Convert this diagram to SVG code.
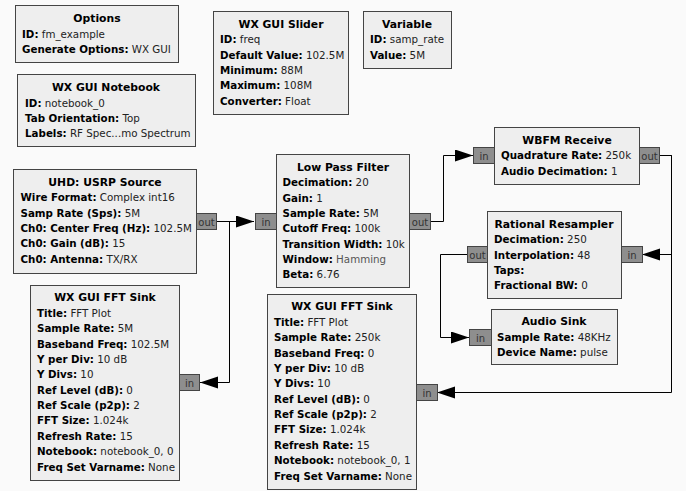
<svg xmlns="http://www.w3.org/2000/svg" width="686" height="491" viewBox="0 0 686 491">
<style>
.bg{fill:#fafafa}
.box{fill:#eeeeee;stroke:#444;stroke-width:1}
.port{fill:#8e8e8e;stroke:#444;stroke-width:1}
.pt{font-family:"DejaVu Sans",sans-serif;font-size:10px;fill:#333;text-anchor:middle}
.t{font-family:"DejaVu Sans",sans-serif;font-size:10.8px;font-weight:bold;fill:#000;text-anchor:middle}
.f{font-family:"DejaVu Sans",sans-serif;font-size:10.3px;fill:#222}
.k{font-weight:bold;fill:#000}
.w{fill:#555}
.c{fill:none;stroke:#000;stroke-width:1}
</style>
<defs>
<marker id="ah" markerUnits="userSpaceOnUse" markerWidth="19" markerHeight="13" refX="18" refY="6" orient="auto">
<path d="M0,0 L18,6 L0,12 z" fill="#000"/>
</marker>
</defs>
<rect class="bg" x="0" y="0" width="686" height="491"/>

<g id="connectors">
<path class="c" d="M216,221.5 H254" marker-end="url(#ah)"/>
<path class="c" d="M216,221.5 H229.5 V382.5 H200" marker-end="url(#ah)"/>
<path class="c" d="M430,221.5 H443.5 V155.5 H473" marker-end="url(#ah)"/>
<path class="c" d="M659,155.5 H671.5 V254.5 H642" marker-end="url(#ah)"/>
<path class="c" d="M659,155.5 H671.5 V392.5 H437" marker-end="url(#ah)"/>
<path class="c" d="M467,254.5 H440.5 V337.5 H469" marker-end="url(#ah)"/>
</g>

<g id="options">
<rect class="box" x="15.5" y="5.5" width="163" height="57"/>
<text class="t" x="97" y="22">Options</text>
<text class="f" x="22" y="37.5"><tspan class="k">ID:</tspan> fm_example</text>
<text class="f" x="22" y="53"><tspan class="k">Generate Options:</tspan> WX GUI</text>
</g>

<g id="notebook">
<rect class="box" x="17.5" y="74.5" width="178" height="72"/>
<text class="t" x="106" y="91">WX GUI Notebook</text>
<text class="f" x="25" y="106.5"><tspan class="k">ID:</tspan> notebook_0</text>
<text class="f" x="25" y="122"><tspan class="k">Tab Orientation:</tspan> Top</text>
<text class="f" x="25" y="137"><tspan class="k">Labels:</tspan> RF Spec...mo Spectrum</text>
</g>

<g id="slider">
<rect class="box" x="213.5" y="11.5" width="135" height="103"/>
<text class="t" x="281" y="27.5">WX GUI Slider</text>
<text class="f" x="220" y="43"><tspan class="k">ID:</tspan> freq</text>
<text class="f" x="220" y="58.5"><tspan class="k">Default Value:</tspan> 102.5M</text>
<text class="f" x="220" y="73.5"><tspan class="k">Minimum:</tspan> 88M</text>
<text class="f" x="220" y="89"><tspan class="k">Maximum:</tspan> 108M</text>
<text class="f" x="220" y="104.5"><tspan class="k">Converter:</tspan> Float</text>
</g>

<g id="variable">
<rect class="box" x="363.5" y="11.5" width="88" height="57"/>
<text class="t" x="407" y="27.5">Variable</text>
<text class="f" x="370" y="43"><tspan class="k">ID:</tspan> samp_rate</text>
<text class="f" x="370" y="58.5"><tspan class="k">Value:</tspan> 5M</text>
</g>

<g id="usrp_source">
<rect class="box" x="13.5" y="169.5" width="183" height="104"/>
<text class="t" x="105" y="185.5">UHD: USRP Source</text>
<text class="f" x="20.5" y="201"><tspan class="k">Wire Format:</tspan> Complex int16</text>
<text class="f" x="20.5" y="216.5"><tspan class="k">Samp Rate (Sps):</tspan> 5M</text>
<text class="f" x="20.5" y="231.5"><tspan class="k">Ch0: Center Freq (Hz):</tspan> 102.5M</text>
<text class="f" x="20.5" y="247"><tspan class="k">Ch0: Gain (dB):</tspan> 15</text>
<text class="f" x="20.5" y="262.5"><tspan class="k">Ch0: Antenna:</tspan> TX/RX</text>
<rect class="port" x="196.5" y="213.5" width="20" height="16"/>
<text class="pt" x="206.5" y="225.5">out</text>
</g>

<g id="low_pass_filter">
<rect class="box" x="276.5" y="154.5" width="133" height="133"/>
<text class="t" x="343" y="170.5">Low Pass Filter</text>
<text class="f" x="282.5" y="186"><tspan class="k">Decimation:</tspan> 20</text>
<text class="f" x="282.5" y="201.5"><tspan class="k">Gain:</tspan> 1</text>
<text class="f" x="282.5" y="216.5"><tspan class="k">Sample Rate:</tspan> 5M</text>
<text class="f" x="282.5" y="232"><tspan class="k">Cutoff Freq:</tspan> 100k</text>
<text class="f" x="282.5" y="247.5"><tspan class="k">Transition Width:</tspan> 10k</text>
<text class="f" x="282.5" y="262.5"><tspan class="k">Window:</tspan> <tspan class="w">Hamming</tspan></text>
<text class="f" x="282.5" y="278"><tspan class="k">Beta:</tspan> 6.76</text>
<rect class="port" x="255.5" y="213.5" width="21" height="16"/>
<text class="pt" x="266" y="225.5">in</text>
<rect class="port" x="409.5" y="213.5" width="21" height="16"/>
<text class="pt" x="420" y="225.5">out</text>
</g>

<g id="wbfm_receive">
<rect class="box" x="494.5" y="127.5" width="145" height="57"/>
<text class="t" x="567" y="143.5">WBFM Receive</text>
<text class="f" x="501" y="159"><tspan class="k">Quadrature Rate:</tspan> 250k</text>
<text class="f" x="501" y="174.5"><tspan class="k">Audio Decimation:</tspan> 1</text>
<rect class="port" x="473.5" y="147.5" width="21" height="16"/>
<text class="pt" x="484" y="159.5">in</text>
<rect class="port" x="639.5" y="147.5" width="20" height="16"/>
<text class="pt" x="649.5" y="159.5">out</text>
</g>

<g id="rational_resampler">
<rect class="box" x="487.5" y="211.5" width="134" height="87"/>
<text class="t" x="554" y="227.5">Rational Resampler</text>
<text class="f" x="494" y="243"><tspan class="k">Decimation:</tspan> 250</text>
<text class="f" x="494" y="258.5"><tspan class="k">Interpolation:</tspan> 48</text>
<text class="f" x="494" y="273.5"><tspan class="k">Taps:</tspan></text>
<text class="f" x="494" y="289"><tspan class="k">Fractional BW:</tspan> 0</text>
<rect class="port" x="467.5" y="246.5" width="20" height="16"/>
<text class="pt" x="477.5" y="258.5">out</text>
<rect class="port" x="621.5" y="246.5" width="21" height="16"/>
<text class="pt" x="632" y="258.5">in</text>
</g>

<g id="audio_sink">
<rect class="box" x="491.5" y="309.5" width="126" height="55"/>
<text class="t" x="554" y="325">Audio Sink</text>
<text class="f" x="497" y="340.5"><tspan class="k">Sample Rate:</tspan> 48KHz</text>
<text class="f" x="497" y="356"><tspan class="k">Device Name:</tspan> pulse</text>
<rect class="port" x="469.5" y="329.5" width="22" height="16"/>
<text class="pt" x="480.5" y="341.5">in</text>
</g>

<g id="fft_sink_0">
<rect class="box" x="30.5" y="285.5" width="149" height="195"/>
<text class="t" x="105" y="301">WX GUI FFT Sink</text>
<text class="f" x="37" y="316.5"><tspan class="k">Title:</tspan> FFT Plot</text>
<text class="f" x="37" y="332"><tspan class="k">Sample Rate:</tspan> 5M</text>
<text class="f" x="37" y="347.5"><tspan class="k">Baseband Freq:</tspan> 102.5M</text>
<text class="f" x="37" y="362.5"><tspan class="k">Y per Div:</tspan> 10 dB</text>
<text class="f" x="37" y="378"><tspan class="k">Y Divs:</tspan> 10</text>
<text class="f" x="37" y="393.5"><tspan class="k">Ref Level (dB):</tspan> 0</text>
<text class="f" x="37" y="408.5"><tspan class="k">Ref Scale (p2p):</tspan> 2</text>
<text class="f" x="37" y="424"><tspan class="k">FFT Size:</tspan> 1.024k</text>
<text class="f" x="37" y="439.5"><tspan class="k">Refresh Rate:</tspan> 15</text>
<text class="f" x="37" y="455"><tspan class="k">Notebook:</tspan> notebook_0, 0</text>
<text class="f" x="37" y="470.5"><tspan class="k">Freq Set Varname:</tspan> None</text>
<rect class="port" x="179.5" y="374.5" width="20" height="16"/>
<text class="pt" x="189.5" y="386.5">in</text>
</g>

<g id="fft_sink_1">
<rect class="box" x="267.5" y="294.5" width="149" height="195"/>
<text class="t" x="342" y="310">WX GUI FFT Sink</text>
<text class="f" x="274" y="325.5"><tspan class="k">Title:</tspan> FFT Plot</text>
<text class="f" x="274" y="341"><tspan class="k">Sample Rate:</tspan> 250k</text>
<text class="f" x="274" y="356.5"><tspan class="k">Baseband Freq:</tspan> 0</text>
<text class="f" x="274" y="371.5"><tspan class="k">Y per Div:</tspan> 10 dB</text>
<text class="f" x="274" y="387"><tspan class="k">Y Divs:</tspan> 10</text>
<text class="f" x="274" y="402.5"><tspan class="k">Ref Level (dB):</tspan> 0</text>
<text class="f" x="274" y="417.5"><tspan class="k">Ref Scale (p2p):</tspan> 2</text>
<text class="f" x="274" y="433"><tspan class="k">FFT Size:</tspan> 1.024k</text>
<text class="f" x="274" y="448.5"><tspan class="k">Refresh Rate:</tspan> 15</text>
<text class="f" x="274" y="464"><tspan class="k">Notebook:</tspan> notebook_0, 1</text>
<text class="f" x="274" y="479.5"><tspan class="k">Freq Set Varname:</tspan> None</text>
<rect class="port" x="416.5" y="384.5" width="21" height="16"/>
<text class="pt" x="427" y="396.5">in</text>
</g>
</svg>
